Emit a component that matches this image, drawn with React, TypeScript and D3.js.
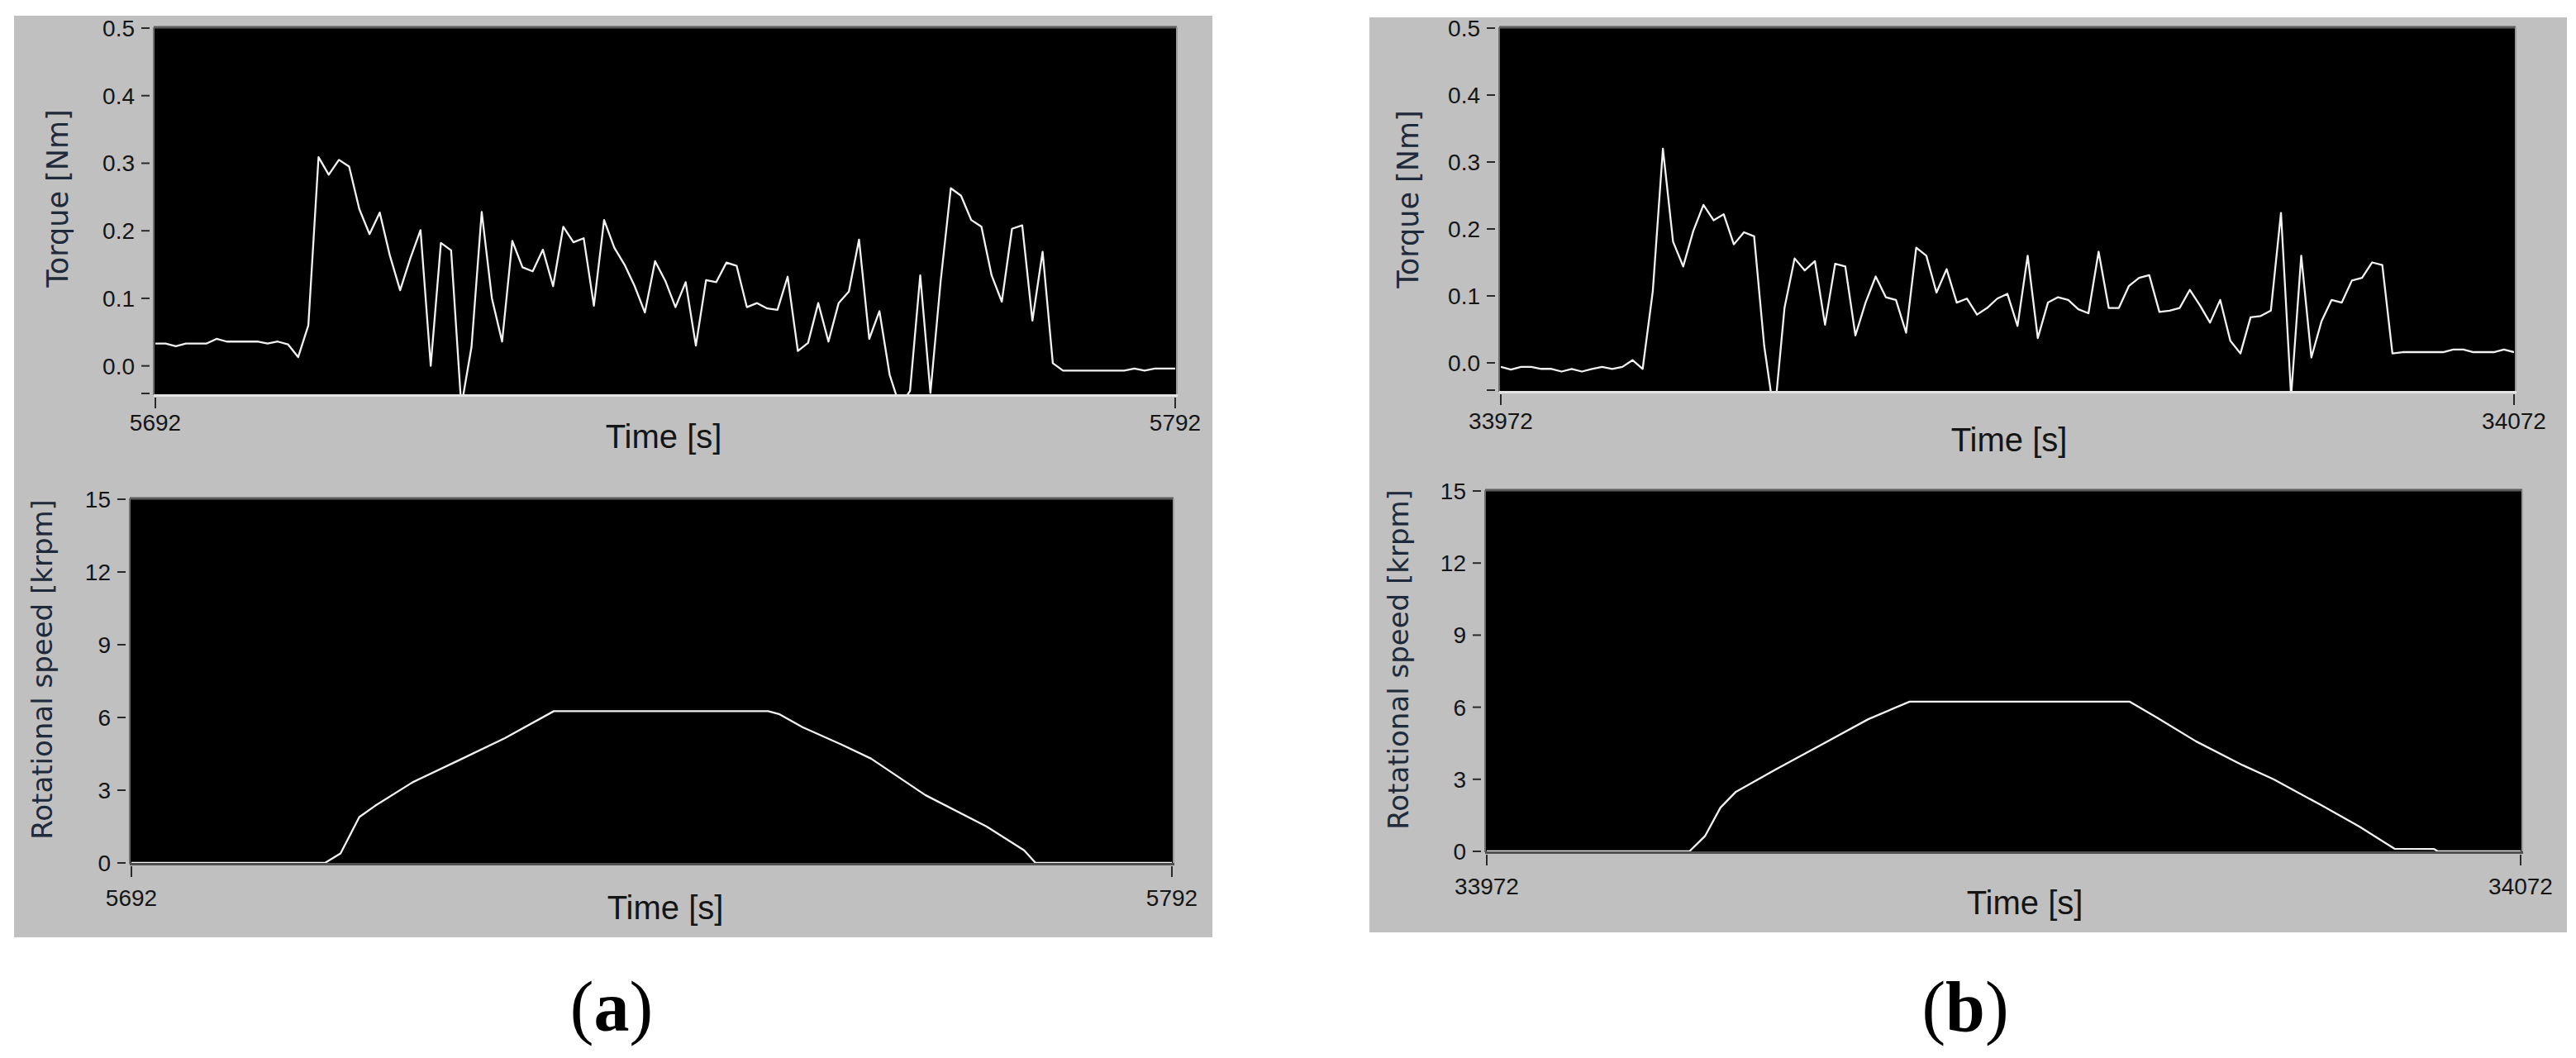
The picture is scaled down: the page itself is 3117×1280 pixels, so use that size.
import React from "react";
import * as d3 from "d3";

// ---------- data ----------
const torqueTickValues = [0, 0.1, 0.2, 0.3, 0.4, 0.5];
const torqueTickLabels = ["0.0", "0.1", "0.2", "0.3", "0.4", "0.5"];
const speedTickValues = [0, 3, 6, 9, 12, 15];
const speedTickLabels = ["0", "3", "6", "9", "12", "15"];
const timeRangeA = [5692, 5792];
const timeRangeB = [33972, 34072];
const timeTickLabelsA = ["5692", "5792"];
const timeTickLabelsB = ["33972", "34072"];
const torqueDomain = [-0.042, 0.5];
const speedDomain = [0, 15];

// torque samples, one per second from the start of each window
const torqueA = [
  0.033, 0.033, 0.029, 0.033, 0.033, 0.033, 0.04, 0.036, 0.036, 0.036,
  0.036, 0.033, 0.036, 0.032, 0.013, 0.06, 0.309, 0.283, 0.305, 0.295,
  0.232, 0.195, 0.227, 0.163, 0.112, 0.159, 0.201, 0.0, 0.182, 0.171,
  -0.06, 0.028, 0.228, 0.1, 0.036, 0.185, 0.146, 0.14, 0.172, 0.118,
  0.206, 0.183, 0.189, 0.089, 0.216, 0.175, 0.15, 0.118, 0.079, 0.155,
  0.126, 0.087, 0.124, 0.03, 0.127, 0.124, 0.153, 0.148, 0.087, 0.093,
  0.085, 0.083, 0.132, 0.022, 0.034, 0.093, 0.036, 0.093, 0.11, 0.187,
  0.04, 0.081, -0.013, -0.06, -0.037, 0.134, -0.04, 0.125, 0.263, 0.252,
  0.216, 0.206, 0.134, 0.095, 0.203, 0.208, 0.067, 0.169, 0.004, -0.007,
  -0.007, -0.007, -0.007, -0.007, -0.007, -0.007, -0.004, -0.007, -0.004, -0.004,
  -0.004,
];
const torqueB = [
  -0.006, -0.01, -0.006, -0.006, -0.009, -0.009, -0.013, -0.009, -0.013, -0.009,
  -0.006, -0.009, -0.006, 0.004, -0.009, 0.107, 0.32, 0.181, 0.144, 0.197,
  0.236, 0.213, 0.222, 0.177, 0.195, 0.189, 0.025, -0.08, 0.082, 0.156,
  0.138, 0.152, 0.057, 0.148, 0.144, 0.041, 0.09, 0.129, 0.098, 0.094,
  0.045, 0.172, 0.16, 0.105, 0.14, 0.09, 0.096, 0.072, 0.082, 0.096,
  0.103, 0.055, 0.16, 0.037, 0.09, 0.098, 0.094, 0.08, 0.074, 0.166,
  0.082, 0.082, 0.115, 0.127, 0.131, 0.076, 0.078, 0.082, 0.109, 0.086,
  0.06, 0.094, 0.033, 0.014, 0.068, 0.07, 0.078, 0.224, -0.05, 0.16,
  0.008, 0.062, 0.094, 0.09, 0.123, 0.127, 0.15, 0.146, 0.014, 0.016,
  0.016, 0.016, 0.016, 0.016, 0.02, 0.02, 0.016, 0.016, 0.016, 0.02,
  0.016,
];

// rotational speed vertices (time [s], krpm)
const speedTimeA = [
  5692, 5710.6, 5712.1, 5713.9, 5715.4, 5719.0, 5723.5, 5727.9, 5732.6, 5753.2,
  5754.3, 5756.5, 5760.2, 5763.1, 5768.3, 5774.2, 5777.8, 5778.9, 5792,
];
const speedValA = [
  0, 0, 0.39, 1.89, 2.35, 3.32, 4.24, 5.15, 6.26, 6.26,
  6.13, 5.6, 4.89, 4.3, 2.8, 1.5, 0.52, 0, 0,
];
const speedTimeB = [
  33972, 33991.6, 33993.1, 33994.6, 33996.1, 33999.9, 34004.4, 34008.9, 34012.9, 34034.2,
  34036.8, 34040.6, 34045.1, 34048.1, 34052.6, 34056.4, 34059.8, 34063.6, 34064, 34072,
];
const speedValB = [
  0, 0, 0.63, 1.82, 2.48, 3.4, 4.45, 5.5, 6.23, 6.23,
  5.57, 4.58, 3.59, 3.0, 1.95, 1.03, 0.11, 0.1, 0, 0,
];

const SANS = "'DejaVu Sans', Verdana, sans-serif";
const ARIAL = "'Liberation Sans', Arial, sans-serif";
const LABEL_COLOR = "#1f2b3a";

type PlotCfg = {
  id: string;
  L: number; R: number; T: number; B: number;
  xRange: number[];
  xLabels: string[];
  xLabelOffset: number;
  yDomain: number[];
  yTicks: number[];
  yTickLabels: string[];
  extraMinTick: boolean;
  xs: number[];
  ys: number[];
  yLabel: string;
  yLabelX: number;
  yLabelY: number;
  yLabelSize: number;
  timeX: number;
  timeBaseline: number;
  bottomFrame: string;
};

function Plot({ c }: { c: PlotCfg }) {
  const x = d3.scaleLinear().domain(c.xRange).range([c.L, c.R]);
  const y = d3.scaleLinear().domain(c.yDomain).range([c.B, c.T]);
  const line = d3
    .line<number>()
    .x((_, i) => x(c.xs[i]))
    .y((d) => y(d));
  const clipId = "clip-" + c.id;
  return (
    <g>
      <defs>
        <clipPath id={clipId}>
          <rect x={c.L} y={c.T} width={c.R - c.L} height={c.B - c.T} />
        </clipPath>
      </defs>
      <rect x={c.L - 1} y={c.T} width={c.R - c.L + 2} height={c.B - c.T} fill="#000" />
      {/* frame */}
      <line x1={c.L - 2} x2={c.R + 2} y1={c.T - 1} y2={c.T - 1} stroke="#5c5c5c" strokeWidth={3} />
      <line x1={c.L - 2} x2={c.L - 2} y1={c.T - 1} y2={c.B + 1} stroke="#6e6e6e" strokeWidth={2} />
      <line x1={c.R + 2} x2={c.R + 2} y1={c.T - 1} y2={c.B + 1} stroke="#9a9a9a" strokeWidth={2} />
      <line x1={c.L - 2} x2={c.R + 3} y1={c.B + 1.5} y2={c.B + 1.5} stroke={c.bottomFrame} strokeWidth={3} />
      {/* data */}
      <path
        d={line(c.ys) || ""}
        fill="none"
        stroke="#f2f2f2"
        strokeWidth={2.3}
        strokeLinejoin="round"
        clipPath={`url(#${clipId})`}
      />
      {/* y ticks */}
      {c.yTicks.map((v, i) => (
        <g key={"yt" + i}>
          <line x1={c.L - 17} x2={c.L - 7} y1={y(v)} y2={y(v)} stroke="#2a2a2a" strokeWidth={2} />
          <text
            x={c.L - 25}
            y={y(v) + 10}
            textAnchor="end"
            fontFamily={ARIAL}
            fontSize={28}
            fill="#151515"
          >
            {c.yTickLabels[i]}
          </text>
        </g>
      ))}
      {c.extraMinTick && (
        <line
          x1={c.L - 17}
          x2={c.L - 7}
          y1={y(c.yDomain[0]) - 1}
          y2={y(c.yDomain[0]) - 1}
          stroke="#2a2a2a"
          strokeWidth={2}
        />
      )}
      {/* x ticks */}
      {c.xRange.map((v, i) => (
        <g key={"xt" + i}>
          <line x1={x(v)} x2={x(v)} y1={c.B + 4} y2={c.B + 17} stroke="#2a2a2a" strokeWidth={2} />
          <text
            x={x(v)}
            y={c.B + c.xLabelOffset}
            textAnchor="middle"
            fontFamily={ARIAL}
            fontSize={28}
            fill="#151515"
          >
            {c.xLabels[i]}
          </text>
        </g>
      ))}
      <text
        x={c.timeX}
        y={c.timeBaseline}
        textAnchor="middle"
        fontFamily={ARIAL}
        fontSize={40}
        fill="#151515"
      >
        Time [s]
      </text>
      <text
        transform={`translate(${c.yLabelX},${c.yLabelY}) rotate(-90)`}
        textAnchor="middle"
        dominantBaseline="central"
        fontFamily={SANS}
        fontSize={c.yLabelSize}
        fill={LABEL_COLOR}
      >
        {c.yLabel}
      </text>
    </g>
  );
}

const idx = (arr: number[], start: number) => arr.map((_, i) => start + i);

export default function App() {
  const plots: PlotCfg[] = [
    {
      id: "ta",
      L: 188, R: 1422, T: 34, B: 477,
      xRange: timeRangeA, xLabels: timeTickLabelsA, xLabelOffset: 44,
      yDomain: torqueDomain, yTicks: torqueTickValues, yTickLabels: torqueTickLabels,
      extraMinTick: true,
      xs: idx(torqueA, timeRangeA[0]), ys: torqueA,
      yLabel: "Torque [Nm]", yLabelX: 70, yLabelY: 240, yLabelSize: 35,
      timeX: 803, timeBaseline: 542, bottomFrame: "#e4e4e4",
    },
    {
      id: "sa",
      L: 159, R: 1418, T: 604, B: 1044,
      xRange: timeRangeA, xLabels: timeTickLabelsA, xLabelOffset: 52,
      yDomain: speedDomain, yTicks: speedTickValues, yTickLabels: speedTickLabels,
      extraMinTick: false,
      xs: speedTimeA, ys: speedValA,
      yLabel: "Rotational speed [krpm]", yLabelX: 51, yLabelY: 810, yLabelSize: 34,
      timeX: 805, timeBaseline: 1112, bottomFrame: "#505050",
    },
    {
      id: "tb",
      L: 1816, R: 3042, T: 34, B: 473,
      xRange: timeRangeB, xLabels: timeTickLabelsB, xLabelOffset: 46,
      yDomain: torqueDomain, yTicks: torqueTickValues, yTickLabels: torqueTickLabels,
      extraMinTick: true,
      xs: idx(torqueB, timeRangeB[0]), ys: torqueB,
      yLabel: "Torque [Nm]", yLabelX: 1704, yLabelY: 241, yLabelSize: 35,
      timeX: 2431, timeBaseline: 546, bottomFrame: "#e4e4e4",
    },
    {
      id: "sb",
      L: 1799, R: 3050, T: 594, B: 1030,
      xRange: timeRangeB, xLabels: timeTickLabelsB, xLabelOffset: 52,
      yDomain: speedDomain, yTicks: speedTickValues, yTickLabels: speedTickLabels,
      extraMinTick: false,
      xs: speedTimeB, ys: speedValB,
      yLabel: "Rotational speed [krpm]", yLabelX: 1692, yLabelY: 798, yLabelSize: 34,
      timeX: 2450, timeBaseline: 1106, bottomFrame: "#505050",
    },
  ];

  return (
    <div style={{ position: "absolute", left: 0, top: 0 }}>
      <svg width={3117} height={1280} style={{ display: "block", background: "#fff" }}>
        <rect x={17} y={19} width={1450} height={1115} fill="#c0c0c0" />
        <rect x={1657} y={21} width={1449} height={1107} fill="#c0c0c0" />
        {plots.map((p) => (
          <Plot key={p.id} c={p} />
        ))}
        <text x={740} y={1247} textAnchor="middle" fontFamily="'Liberation Serif', 'Times New Roman', serif" fontSize={86} fill="#000">
          (<tspan fontWeight="bold">a</tspan>)
        </text>
        <text x={2378} y={1247} textAnchor="middle" fontFamily="'Liberation Serif', 'Times New Roman', serif" fontSize={86} fill="#000">
          (<tspan fontWeight="bold">b</tspan>)
        </text>
      </svg>
    </div>
  );
}
